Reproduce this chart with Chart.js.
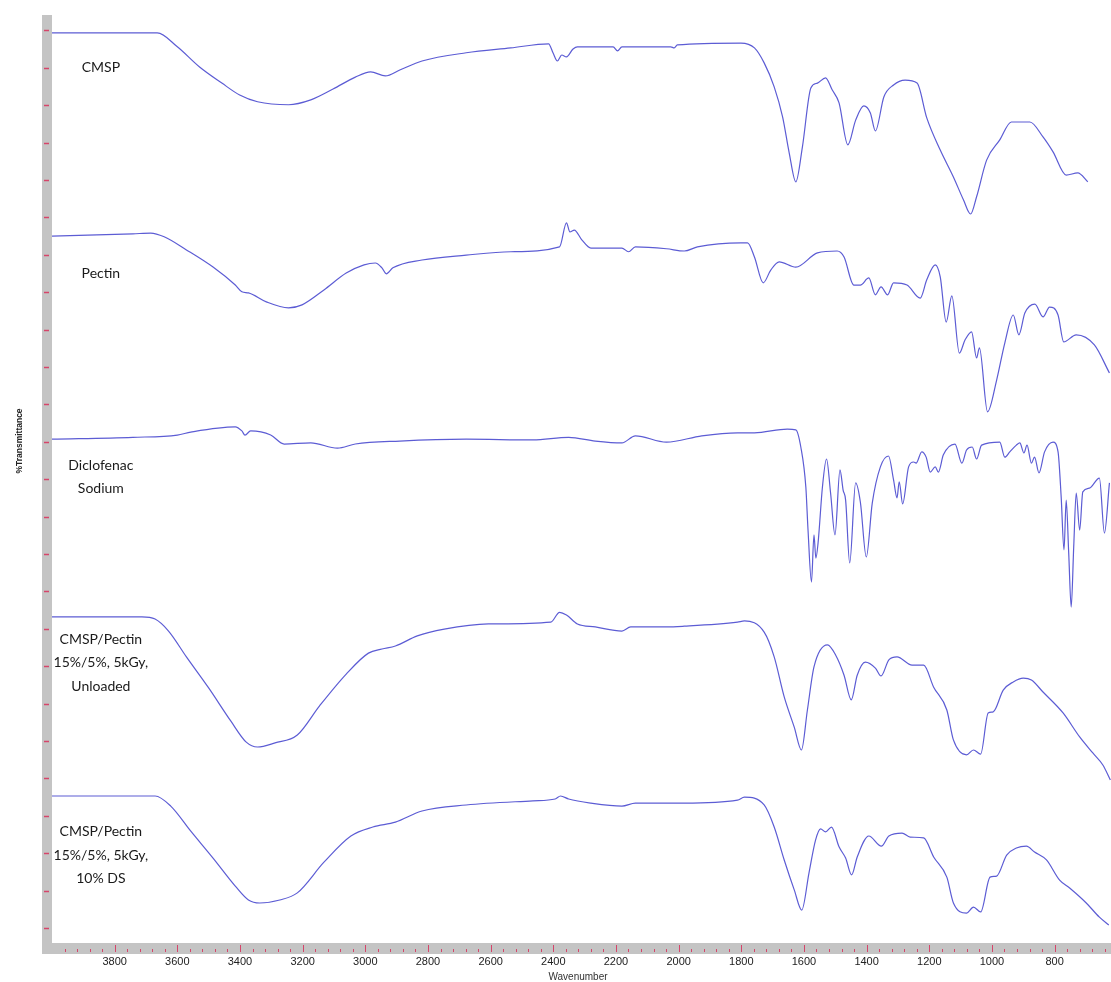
<!DOCTYPE html>
<html>
<head>
<meta charset="utf-8">
<script src="https://cdn.jsdelivr.net/npm/chart.js@4.4.1/dist/chart.umd.min.js"></script>
<style>
  html, body { margin: 0; padding: 0; background: #fff; }
  #wrap { width: 1111px; height: 982px; position: relative; }
</style>
</head>
<body>
<div id="wrap"><canvas id="ftir"></canvas></div>
<script>
// FTIR spectra, stacked. x = wavenumber (cm-1), y = %T in stacked tick units
const cmspWn = [4000, 3664, 3600, 3529, 3458, 3401, 3344, 3245, 3174, 3103, 3032, 2983, 2936, 2890, 2819, 2678, 2536, 2415, 2401, 2387,
  2373, 2358, 2337, 2323, 2209, 2195, 2181, 2025, 2014, 2004, 1801, 1758, 1727, 1695, 1668, 1647, 1626, 1605, 1578, 1557,
  1531, 1510, 1488, 1460, 1435, 1409, 1388, 1372, 1345, 1314, 1277, 1239, 1208, 1165, 1123, 1091, 1068, 1049, 1017, 975,
  938, 879, 837, 805, 763, 726, 694];
const cmspT = [23.93, 23.93, 23.56, 23.02, 22.59, 22.27, 22.09, 22.01, 22.14, 22.43, 22.75, 22.89, 22.78, 22.94, 23.18, 23.40, 23.53, 23.64, 23.40, 23.18,
  23.34, 23.29, 23.50, 23.56, 23.56, 23.45, 23.56, 23.56, 23.53, 23.61, 23.66, 23.53, 23.13, 22.49, 21.68, 20.72, 19.95, 20.88, 22.46, 22.59,
  22.73, 22.41, 22.06, 20.94, 21.60, 21.98, 21.79, 21.31, 22.22, 22.54, 22.67, 22.59, 21.66, 20.80, 20.08, 19.47, 19.09, 19.55, 20.53, 21.07,
  21.55, 21.55, 21.15, 20.75, 20.13, 20.19, 19.95];

const pectinWn = [4000, 3742, 3685, 3642, 3571, 3486, 3415, 3394, 3373, 3316, 3245, 3202, 3132, 3061, 3004, 2968, 2947, 2933, 2912, 2819,
  2678, 2536, 2380, 2358, 2347, 2333, 2309, 2280, 2181, 2160, 2138, 2039, 1982, 1940, 1801, 1780, 1758, 1730, 1706, 1679,
  1626, 1557, 1494, 1472, 1441, 1420, 1393, 1372, 1354, 1333, 1314, 1271, 1229, 1208, 1181, 1165, 1146, 1128, 1104, 1086,
  1065, 1049, 1040, 1014, 985, 959, 932, 914, 895, 863, 837, 816, 789, 771, 731, 673, 625];
const pectinT = [18.50, 18.56, 18.58, 18.48, 18.13, 17.67, 17.19, 17.01, 16.98, 16.74, 16.58, 16.66, 17.06, 17.51, 17.73, 17.78, 17.65, 17.49, 17.65, 17.86,
  17.99, 18.08, 18.21, 18.85, 18.61, 18.66, 18.40, 18.18, 18.18, 18.08, 18.21, 18.16, 18.10, 18.21, 18.32, 18.32, 17.94, 17.25, 17.59, 17.81,
  17.67, 18.05, 18.10, 17.94, 17.19, 17.19, 17.38, 16.93, 17.14, 16.93, 17.25, 17.19, 16.84, 17.33, 17.73, 17.41, 16.20, 16.90, 15.37, 15.72,
  15.94, 15.24, 15.51, 13.80, 14.65, 15.64, 16.39, 15.86, 16.44, 16.68, 16.34, 16.60, 16.39, 15.67, 15.86, 15.59, 14.84];

const dsWn = [4000, 3742, 3600, 3557, 3415, 3394, 3384, 3366, 3302, 3259, 3174, 3089, 3032, 2890, 2678, 2465, 2351, 2266, 2181, 2138,
  2039, 1926, 1812, 1758, 1653, 1626, 1610, 1594, 1587, 1576, 1568, 1562, 1555, 1541, 1528, 1515, 1501, 1485, 1475, 1467,
  1454, 1435, 1420, 1401, 1382, 1356, 1330, 1314, 1303, 1296, 1285, 1266, 1250, 1242, 1224, 1210, 1197, 1181, 1171, 1155,
  1118, 1096, 1081, 1063, 1049, 1033, 975, 959, 943, 922, 911, 898, 888, 874, 864, 850, 832, 805, 789, 779,
  770, 763, 755, 747, 739, 731, 720, 710, 689, 657, 641, 625];
const dsT = [13.07, 13.12, 13.18, 13.26, 13.40, 13.29, 13.18, 13.29, 13.18, 12.94, 12.97, 12.83, 12.94, 13.02, 13.07, 13.05, 13.12, 13.02, 12.97, 13.16,
  12.99, 13.16, 13.24, 13.24, 13.34, 13.32, 12.86, 11.79, 10.64, 9.25, 10.51, 9.89, 10.29, 11.79, 12.54, 11.63, 10.51, 12.25, 11.71, 11.44,
  9.76, 11.90, 11.39, 9.92, 11.36, 12.33, 12.62, 11.98, 11.50, 11.93, 11.34, 12.33, 12.46, 12.43, 12.73, 12.59, 12.19, 12.33, 12.19, 12.65,
  12.94, 12.43, 12.78, 12.86, 12.54, 12.91, 12.99, 12.59, 12.73, 12.91, 12.97, 12.70, 12.91, 12.43, 12.59, 12.17, 12.73, 12.99, 12.73, 11.52,
  10.11, 11.44, 10.03, 8.58, 10.19, 11.63, 10.64, 11.66, 11.76, 12.03, 10.56, 11.90];

const unloadedWn = [4000, 3713, 3671, 3628, 3571, 3500, 3429, 3380, 3344, 3288, 3217, 3146, 3061, 2990, 2947, 2904, 2834, 2748, 2607, 2408,
  2380, 2358, 2323, 2266, 2181, 2153, 2039, 1982, 1812, 1790, 1727, 1695, 1663, 1631, 1608, 1589, 1568, 1525, 1499, 1472,
  1449, 1430, 1404, 1372, 1354, 1329, 1303, 1255, 1218, 1186, 1144, 1123, 1081, 1059, 1036, 1012, 996, 964, 932, 900,
  874, 837, 773, 720, 678, 646, 622];
const unloadedT = [8.32, 8.32, 8.26, 7.94, 7.25, 6.42, 5.53, 4.97, 4.84, 4.95, 5.16, 5.94, 6.79, 7.35, 7.46, 7.54, 7.81, 7.99, 8.13, 8.18,
  8.44, 8.37, 8.13, 8.05, 7.94, 8.05, 8.05, 8.07, 8.18, 8.21, 7.91, 7.25, 6.18, 5.37, 4.76, 5.83, 6.98, 7.57, 7.30, 6.76,
  6.10, 6.76, 7.11, 6.95, 6.74, 7.17, 7.25, 7.03, 7.03, 6.44, 5.83, 5.03, 4.63, 4.76, 4.65, 5.75, 5.78, 6.36, 6.58, 6.68,
  6.63, 6.31, 5.75, 5.11, 4.68, 4.36, 3.96];

const loadedWn = [4000, 3671, 3621, 3557, 3486, 3415, 3373, 3337, 3273, 3217, 3132, 3046, 2976, 2904, 2819, 2678, 2465, 2394, 2377, 2351,
  2280, 2181, 2138, 1982, 1812, 1790, 1727, 1695, 1663, 1631, 1607, 1584, 1563, 1547, 1531, 1512, 1488, 1467, 1448, 1430,
  1393, 1353, 1329, 1287, 1261, 1218, 1186, 1144, 1123, 1081, 1059, 1036, 1006, 985, 953, 922, 890, 864, 826, 784,
  752, 699, 657, 627];
const loadedT = [3.53, 3.53, 3.26, 2.59, 1.87, 1.12, 0.75, 0.67, 0.75, 0.94, 1.76, 2.46, 2.70, 2.83, 3.13, 3.29, 3.40, 3.45, 3.53, 3.45,
  3.34, 3.26, 3.34, 3.34, 3.42, 3.50, 3.29, 2.70, 1.82, 1.02, 0.48, 1.47, 2.35, 2.65, 2.57, 2.70, 2.17, 1.87, 1.42, 1.90,
  2.46, 2.19, 2.46, 2.54, 2.43, 2.41, 1.90, 1.36, 0.67, 0.40, 0.56, 0.43, 1.36, 1.39, 1.95, 2.14, 2.19, 2.03, 1.82, 1.28,
  1.07, 0.67, 0.29, 0.08];

const sampleNames = [
  ['CMSP'],
  ['Pectin'],
  ['Diclofenac', 'Sodium'],
  ['CMSP/Pectin', '15%/5%, 5kGy,', 'Unloaded'],
  ['CMSP/Pectin', '15%/5%, 5kGy,', '10% DS']
];
const series = [[cmspWn, cmspT], [pectinWn, pectinT], [dsWn, dsT], [unloadedWn, unloadedT], [loadedWn, loadedT]];

// where the sample captions sit (data space)
const captionWn = 3844;
const captionT = [23.02, 17.51, 12.06, 7.09, 1.95];

const LINE = 'rgb(92, 92, 212)';
const BAR = '#c4c4c4';
const TICK = '#d6456a';

const frame = {
  id: 'frame',
  beforeDatasetsDraw(chart) {
    const { ctx, chartArea: a, scales: { x, y } } = chart;
    ctx.save();
    ctx.fillStyle = BAR;
    ctx.fillRect(42, a.top, a.left - 42, a.bottom - a.top + 11);
    ctx.fillRect(42, a.bottom, a.right - 42, 11);
    ctx.strokeStyle = TICK;
    ctx.lineWidth = 1.5;
    y.ticks.forEach(t => {
      const py = Math.round(y.getPixelForValue(t.value)) + 0.5;
      ctx.beginPath(); ctx.moveTo(44, py); ctx.lineTo(49, py); ctx.stroke();
    });
    ctx.lineWidth = 1;
    x.ticks.forEach(t => {
      if (t.value >= 4000) return;
      const px = Math.round(x.getPixelForValue(t.value)) + 0.5;
      const major = t.value % 200 === 0;
      ctx.beginPath();
      ctx.moveTo(px, a.bottom + (major ? 2 : 6));
      ctx.lineTo(px, a.bottom + 9);
      ctx.stroke();
    });
    ctx.restore();
  },
  afterDraw(chart) {
    const { ctx, scales: { x, y } } = chart;
    ctx.save();
    ctx.fillStyle = '#1a1a1a';
    ctx.textAlign = 'center';
    ctx.textBaseline = 'middle';
    ctx.font = '14px Lato';
    sampleNames.forEach((lines, i) => {
      const cx = x.getPixelForValue(captionWn);
      const cy = y.getPixelForValue(captionT[i]);
      const lh = 23.5;
      lines.forEach((s, j) => ctx.fillText(s, cx, cy + (j - (lines.length - 1) / 2) * lh));
    });
    // axis titles
    ctx.fillStyle = '#333';
    ctx.font = '10px "Liberation Sans"';
    ctx.fillText('Wavenumber', 578, 977);
    ctx.translate(20, 441);
    ctx.rotate(-Math.PI / 2);
    ctx.font = 'bold 8.5px "Liberation Sans"';
    ctx.fillStyle = '#222';
    ctx.fillText('%Transmittance', 0, 0);
    ctx.restore();
  }
};

new Chart(document.getElementById('ftir'), {
  type: 'line',
  data: {
    datasets: series.map(([wn, t], i) => ({
      label: sampleNames[i].join(' '),
      data: wn.map((w, k) => ({ x: w, y: t[k] })),
      borderColor: LINE,
      borderWidth: 1.2,
      pointRadius: 0,
      cubicInterpolationMode: 'monotone',
      fill: false
    }))
  },
  options: {
    responsive: true,
    maintainAspectRatio: false,
    animation: false,
    layout: { padding: { top: 15, left: 0, right: 0, bottom: 0 } },
    plugins: { legend: { display: false }, tooltip: { enabled: false } },
    scales: {
      x: {
        type: 'linear',
        reverse: true,
        min: 620,
        max: 4000,
        grid: { display: false, drawTicks: false },
        border: { display: false },
        ticks: {
          stepSize: 40,
          autoSkip: false,
          maxRotation: 0,
          includeBounds: false,
          padding: 12,
          color: '#222',
          font: { family: "'Liberation Sans Narrow', 'Liberation Sans'", size: 11 },
          callback: v => (v % 200 === 0 && v < 4000) ? String(v) : ''
        },
        afterFit: s => { s.height = 39; s.paddingLeft = 0; s.paddingRight = 0; }
      },
      y: {
        min: -0.4,
        max: 24.41,
        grid: { display: false, drawTicks: false },
        border: { display: false },
        ticks: { display: false, stepSize: 1, includeBounds: false },
        afterFit: s => { s.width = 52; s.paddingTop = 0; s.paddingBottom = 0; }
      }
    }
  },
  plugins: [frame]
});
</script>
</body>
</html>
